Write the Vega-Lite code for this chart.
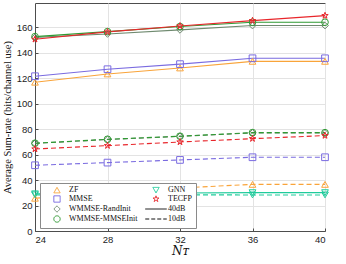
{
  "$schema": "https://vega.github.io/schema/vega-lite/v6.json",
  "width": 290,
  "height": 228,
  "autosize": {"type": "none"},
  "padding": {"left": 35, "top": 3, "right": 21, "bottom": 33},
  "background": "white",
  "config": {
    "view": {"stroke": "#4d4d4d", "strokeWidth": 1},
    "axis": {
      "labelFont": "Liberation Sans", "labelFontSize": 9.5, "labelColor": "#222",
      "titleFont": "Liberation Serif", "titleFontWeight": "normal", "titleColor": "#111",
      "gridColor": "#e3e3e3", "domainColor": "#4d4d4d", "tickColor": "#4d4d4d",
      "tickSize": -3, "labelPadding": 6
    }
  },
  "datasets": {
    "main": [
      {"s": "ZF", "snr": "40dB", "n": 24, "v": 116.8}, {"s": "ZF", "snr": "40dB", "n": 28, "v": 123.3}, {"s": "ZF", "snr": "40dB", "n": 32, "v": 128.0}, {"s": "ZF", "snr": "40dB", "n": 36, "v": 133.2}, {"s": "ZF", "snr": "40dB", "n": 40, "v": 133.2},
      {"s": "MMSE", "snr": "40dB", "n": 24, "v": 121.5}, {"s": "MMSE", "snr": "40dB", "n": 28, "v": 127.0}, {"s": "MMSE", "snr": "40dB", "n": 32, "v": 131.0}, {"s": "MMSE", "snr": "40dB", "n": 36, "v": 135.6}, {"s": "MMSE", "snr": "40dB", "n": 40, "v": 135.6},
      {"s": "WMMSE-RandInit", "snr": "40dB", "n": 24, "v": 152.0}, {"s": "WMMSE-RandInit", "snr": "40dB", "n": 28, "v": 154.7}, {"s": "WMMSE-RandInit", "snr": "40dB", "n": 32, "v": 157.9}, {"s": "WMMSE-RandInit", "snr": "40dB", "n": 36, "v": 161.3}, {"s": "WMMSE-RandInit", "snr": "40dB", "n": 40, "v": 161.3},
      {"s": "WMMSE-MMSEInit", "snr": "40dB", "n": 24, "v": 152.6}, {"s": "WMMSE-MMSEInit", "snr": "40dB", "n": 28, "v": 156.5}, {"s": "WMMSE-MMSEInit", "snr": "40dB", "n": 32, "v": 160.5}, {"s": "WMMSE-MMSEInit", "snr": "40dB", "n": 36, "v": 163.9}, {"s": "WMMSE-MMSEInit", "snr": "40dB", "n": 40, "v": 163.9},
      {"s": "GNN", "snr": "40dB", "n": 24, "v": 29.2}, {"s": "GNN", "snr": "40dB", "n": 28, "v": 29.6}, {"s": "GNN", "snr": "40dB", "n": 32, "v": 29.8}, {"s": "GNN", "snr": "40dB", "n": 36, "v": 30.1}, {"s": "GNN", "snr": "40dB", "n": 40, "v": 30.1},
      {"s": "TECFP", "snr": "40dB", "n": 24, "v": 150.5}, {"s": "TECFP", "snr": "40dB", "n": 28, "v": 156.3}, {"s": "TECFP", "snr": "40dB", "n": 32, "v": 161.0}, {"s": "TECFP", "snr": "40dB", "n": 36, "v": 165.2}, {"s": "TECFP", "snr": "40dB", "n": 40, "v": 169.1},
      {"s": "ZF", "snr": "10dB", "n": 24, "v": 25.7}, {"s": "ZF", "snr": "10dB", "n": 28, "v": 30.5}, {"s": "ZF", "snr": "10dB", "n": 32, "v": 33.8}, {"s": "ZF", "snr": "10dB", "n": 36, "v": 36.6}, {"s": "ZF", "snr": "10dB", "n": 40, "v": 36.6},
      {"s": "MMSE", "snr": "10dB", "n": 24, "v": 51.6}, {"s": "MMSE", "snr": "10dB", "n": 28, "v": 53.7}, {"s": "MMSE", "snr": "10dB", "n": 32, "v": 55.8}, {"s": "MMSE", "snr": "10dB", "n": 36, "v": 57.9}, {"s": "MMSE", "snr": "10dB", "n": 40, "v": 57.9},
      {"s": "WMMSE-RandInit", "snr": "10dB", "n": 24, "v": 68.8}, {"s": "WMMSE-RandInit", "snr": "10dB", "n": 28, "v": 71.8}, {"s": "WMMSE-RandInit", "snr": "10dB", "n": 32, "v": 74.3}, {"s": "WMMSE-RandInit", "snr": "10dB", "n": 36, "v": 77.0}, {"s": "WMMSE-RandInit", "snr": "10dB", "n": 40, "v": 77.0},
      {"s": "WMMSE-MMSEInit", "snr": "10dB", "n": 24, "v": 68.9}, {"s": "WMMSE-MMSEInit", "snr": "10dB", "n": 28, "v": 72.0}, {"s": "WMMSE-MMSEInit", "snr": "10dB", "n": 32, "v": 74.4}, {"s": "WMMSE-MMSEInit", "snr": "10dB", "n": 36, "v": 77.2}, {"s": "WMMSE-MMSEInit", "snr": "10dB", "n": 40, "v": 77.2},
      {"s": "GNN", "snr": "10dB", "n": 24, "v": 28.4}, {"s": "GNN", "snr": "10dB", "n": 28, "v": 28.4}, {"s": "GNN", "snr": "10dB", "n": 32, "v": 28.4}, {"s": "GNN", "snr": "10dB", "n": 36, "v": 28.3}, {"s": "GNN", "snr": "10dB", "n": 40, "v": 28.3},
      {"s": "TECFP", "snr": "10dB", "n": 24, "v": 64.4}, {"s": "TECFP", "snr": "10dB", "n": 28, "v": 67.0}, {"s": "TECFP", "snr": "10dB", "n": 32, "v": 69.9}, {"s": "TECFP", "snr": "10dB", "n": 36, "v": 72.5}, {"s": "TECFP", "snr": "10dB", "n": 40, "v": 74.9}
    ],
    "legend": [
      {"s": "ZF", "n": null, "v": null}, {"s": "MMSE", "n": null, "v": null},
      {"s": "WMMSE-RandInit", "n": null, "v": null}, {"s": "WMMSE-MMSEInit", "n": null, "v": null},
      {"s": "GNN", "n": null, "v": null}, {"s": "TECFP", "n": null, "v": null},
      {"s": "40dB", "n": null, "v": null}, {"s": "10dB", "n": null, "v": null}
    ]
  },
  "encoding": {
    "x": {"field": "n", "type": "quantitative",
      "scale": {"domain": [24, 40], "nice": false},
      "axis": {"values": [24, 28, 32, 36, 40], "title": "Nᴛ", "titleFontStyle": "italic", "titleFont": "DejaVu Serif", "titleFontSize": 12, "titlePadding": 2}},
    "y": {"field": "v", "type": "quantitative",
      "scale": {"domain": [0, 179], "nice": false},
      "axis": {"values": [0, 20, 40, 60, 80, 100, 120, 140, 160], "title": "Average Sum-rate (bits/channel use)", "titleFontSize": 10.5, "titlePadding": 4}},
    "color": {"field": "s", "type": "nominal",
      "scale": {
        "domain": ["ZF", "MMSE", "WMMSE-RandInit", "WMMSE-MMSEInit", "GNN", "TECFP", "40dB", "10dB"],
        "range": ["#F9A43A", "#7A6BE0", "#6F8A6F", "#2F9A33", "#1FCB9B", "#E8262B", "#111111", "#111111"]}}
  },
  "layer": [
    {"data": {"name": "main"}, "transform": [{"filter": "datum.snr === '40dB'"}],
      "mark": {"type": "line", "strokeWidth": 1.1}},
    {"data": {"name": "main"}, "transform": [{"filter": "datum.snr === '10dB'"}],
      "mark": {"type": "line", "strokeWidth": 1.1, "strokeDash": [5, 3]}},
    {"data": {"name": "main"},
      "mark": {"type": "point", "filled": false, "size": 45, "strokeWidth": 1, "opacity": 1},
      "encoding": {
        "shape": {"field": "s", "type": "nominal",
          "scale": {
            "domain": ["ZF", "MMSE", "WMMSE-RandInit", "WMMSE-MMSEInit", "GNN", "TECFP", "40dB", "10dB"],
            "range": ["triangle-up", "square", "diamond", "circle", "triangle-down", "M0,-1L0.225,-0.309L0.951,-0.309L0.363,0.118L0.588,0.809L0,0.382L-0.588,0.809L-0.363,0.118L-0.951,-0.309L-0.225,-0.309Z", "M-3.4,0L3.4,0", "M-3.4,0L3.4,0"]}}
      }},
    {"data": {"name": "legend"},
      "mark": {"type": "point", "filled": false, "size": 45, "strokeWidth": 1, "opacity": 1},
      "encoding": {
        "shape": {"field": "s", "type": "nominal"},
        "strokeDash": {"field": "s", "type": "nominal",
          "scale": {
            "domain": ["ZF", "MMSE", "WMMSE-RandInit", "WMMSE-MMSEInit", "GNN", "TECFP", "40dB", "10dB"],
            "range": [[1, 0], [1, 0], [1, 0], [1, 0], [1, 0], [1, 0], [1, 0], [4, 2]]}},
        "color": {"field": "s", "type": "nominal",
          "legend": {"title": null, "orient": "none", "legendX": 5, "legendY": 180, "columns": 2,
            "strokeColor": "#8a8a8a", "fillColor": "white", "padding": 3,
            "labelFont": "Liberation Serif", "labelFontSize": 8, "labelColor": "#111",
            "symbolSize": 40, "symbolStrokeWidth": 1, "symbolOpacity": 1,
            "rowPadding": -3, "columnPadding": 4, "labelOffset": 8, "symbolOffset": 10}}
      }}
  ]
}
